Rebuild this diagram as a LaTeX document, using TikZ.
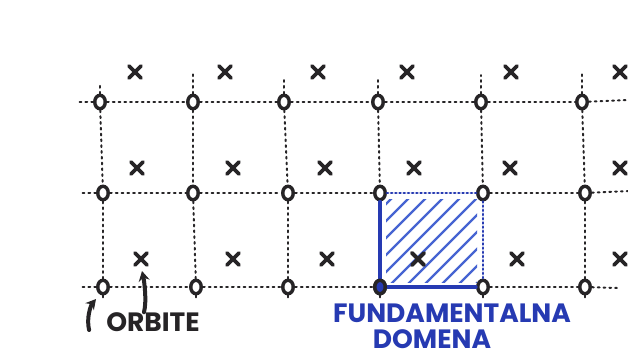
\documentclass[tikz,border=0pt]{standalone}
\usepackage{fontspec}
\setmainfont{Poppins}
\usetikzlibrary{arrows.meta,shapes.geometric,calc}
\definecolor{ink}{RGB}{38,36,38}
\definecolor{pen}{RGB}{38,58,178}
\definecolor{penlight}{RGB}{70,100,210}
\tikzset{
  ring/.style={ellipse, draw=ink, line width=3.4pt, minimum width=10.5pt, minimum height=13.5pt, inner sep=0pt, fill=white},
  xm/.style={minimum size=20pt, inner sep=0pt,
    path picture={\draw[ink,line width=3.8pt,line cap=round]
      ([shift={(4pt,4pt)}]path picture bounding box.south west) -- ([shift={(-4pt,-4pt)}]path picture bounding box.north east)
      ([shift={(4pt,-4pt)}]path picture bounding box.north west) -- ([shift={(-4pt,4pt)}]path picture bounding box.south east);}},
  grid/.style={ink, line width=2pt, line cap=round, dash pattern=on 1.8pt off 4pt},
  bsolid/.style={pen, line width=3.2pt, line cap=round},
  bdot/.style={pen, line width=2.8pt, line cap=round, dash pattern=on 1pt off 3.2pt},
  hatch/.style={penlight, line width=2.4pt, line cap=round},
  lbl/.style={font=\fontsize{26.5}{29}\selectfont\bfseries, inner sep=0pt},
  arr/.style={ink, line width=4pt, line cap=round, -{Stealth[length=10pt,width=11pt]}}
}
\begin{document}
\begin{tikzpicture}[x=1pt,y=-1pt]
\useasboundingbox (0,0) rectangle (628,357);
\fill[white] (0,0) rectangle (628,357);
% lattice points
\foreach \x [count=\j] in {100,193,284,378,481,582} \node[ring] (c1\j) at (\x,102) {};
\foreach \x [count=\j] in {103,193,288,380,483,585} \node[ring] (c2\j) at (\x,193) {};
\foreach \x [count=\j] in {103,196,288,380,483,585} \node[ring] (c3\j) at (\x,287) {};
% stub ends
\foreach \y [count=\j] in {82,73,78,78,75,73} \coordinate (t\j) at ($(c1\j)+(0,{\y-102})$);
\foreach \j in {1,...,6} \coordinate (b\j) at ($(c3\j)+(0,11)$);
\coordinate (l1) at (78,102); \coordinate (l2) at (80,193); \coordinate (l3) at (80,287);
\coordinate (r1) at (628,100); \coordinate (r2) at (628,191); \coordinate (r3) at (618,288);
% crosses
\foreach \x [count=\j] in {135,225,318,407,511,620} \node[xm] (x1\j) at (\x,72) {};
\foreach \x [count=\j] in {137,233,325,414,510,620} \node[xm] (x2\j) at (\x,168) {};
\foreach \x [count=\j] in {141,233,327,418,517,620} \node[xm] (x3\j) at (\x,259) {};
% hatching of the fundamental domain
\begin{scope}
\clip (386,199) rectangle (477,282);
\foreach \k in {0,...,10} \draw[hatch] ({590+\k*17-300},300) -- ({590+\k*17-170},170);
\end{scope}
\node[xm] at (x34) {};
% black dotted lattice lines
\foreach \a/\b in {11/12,12/13,13/14,14/15,15/16,21/22,22/23,23/24,25/26,31/32,32/33,33/34,35/36,
  11/21,12/22,13/23,14/24,15/25,16/26,21/31,22/32,23/33,26/36}
  \draw[grid] (c\a) -- (c\b);
\foreach \j in {1,...,6} {\draw[grid] (c1\j) -- (t\j); \draw[grid] (c3\j) -- (b\j);}
\foreach \i in {1,2,3} {\draw[grid] (c\i1) -- (l\i); \draw[grid] (c\i6) -- (r\i);}
% blue domain boundary
\draw[bsolid] (c24) -- (c34) -- (c35);
\draw[bdot] (c24) -- (c25) -- (c35);
\node[ring, fill=pen] at (c34) {};
% labels
\node[lbl, text=ink] (orb) at (153,322) {ORBITE};
\node[lbl, text=pen] (fd1) at (452,313) {FUNDAMENTALNA};
\node[lbl, text=pen] (fd2) at (432,339) {DOMENA};
% arrows
\coordinate (a1) at (96,299);
\coordinate (a2) at (142,271);
\draw[arr] ([shift={(-17pt,-8pt)}]orb.west) .. controls +(-3,-12) and +(-5,6) .. (a1);
\draw[arr] ([shift={(-9pt,0pt)}]orb.north) .. controls +(3,-12) and +(2,9) .. (a2);
\end{tikzpicture}
\end{document}
